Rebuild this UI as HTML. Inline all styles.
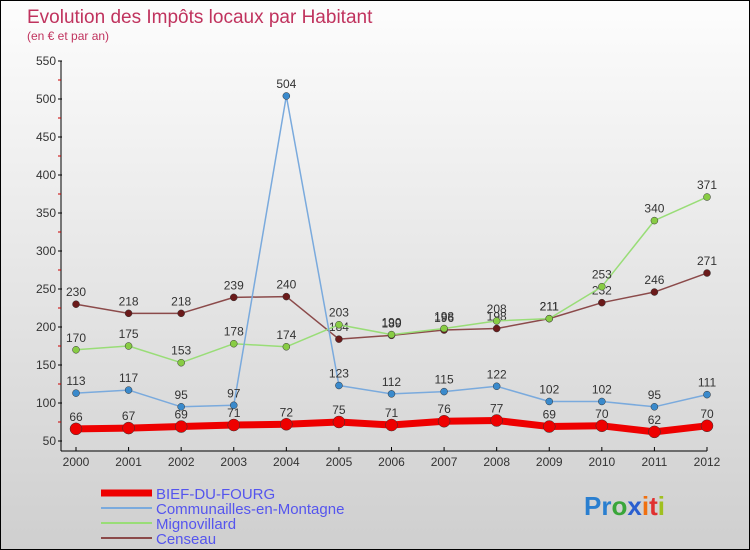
<!DOCTYPE html>
<html><head><meta charset="utf-8"><style>
body{margin:0}
#c{width:750px;height:550px;position:relative;box-sizing:border-box;border:1px solid #000;background:linear-gradient(#fdfdfd,#cfcfcf);font-family:"Liberation Sans",sans-serif;overflow:hidden}
text{font-family:"Liberation Sans",sans-serif}
</style></head><body>
<div id="c">
<svg id="s" width="750" height="550">
<text x="26" y="22" font-size="19" fill="#c0335e">Evolution des Impôts locaux par Habitant</text>
<text x="26" y="39" font-size="12" fill="#c0335e">(en € et par an)</text>
<g id="axes"></g><g id="series"></g><g id="legend"></g>
<text x="583" y="514" font-size="26" font-weight="bold"><tspan fill="#2a7fd0">Pr</tspan><tspan fill="#3aa63a">o</tspan><tspan fill="#2a5fd0">x</tspan><tspan fill="#f07010">i</tspan><tspan fill="#e03030">t</tspan><tspan fill="#a0c020">i</tspan></text>
</svg></div>
<script>
const years=[2000,2001,2002,2003,2004,2005,2006,2007,2008,2009,2010,2011,2012];
const yTicks=[50,100,150,200,250,300,350,400,450,500,550];
const bief=[66,67,69,71,72,75,71,76,77,69,70,62,70];
const comm=[113,117,95,97,504,123,112,115,122,102,102,95,111];
const mign=[170,175,153,178,174,203,190,198,208,211,253,340,371];
const cens=[230,218,218,239,240,184,189,196,198,211,232,246,271];
const NS="http://www.w3.org/2000/svg";
function X(i){return 75+i*(706-75)/12;}
function Y(v){return 440-(v-50)*0.76;}
function mk(t,a,p){const e=document.createElementNS(NS,t);for(const k in a)e.setAttribute(k,a[k]);p.appendChild(e);return e;}
const ax=document.getElementById('axes');
let l=mk('line',{x1:60,y1:60,x2:60,y2:450,stroke:'#000'},ax);


l=mk('line',{x1:60,y1:450,x2:706,y2:450,stroke:'#000'},ax);


yTicks.forEach((v,i)=>{
 mk('line',{x1:57,y1:Y(v),x2:61,y2:Y(v),stroke:'#000'},ax);
 if(i<yTicks.length-1) mk('line',{x1:57,y1:Y(v+25),x2:60,y2:Y(v+25),stroke:'#c00'},ax);
 const t=mk('text',{x:55,y:Y(v)+4,'font-size':12,fill:'#333','text-anchor':'end'},ax);t.textContent=v;
 
 
});
years.forEach((y,i)=>{
 mk('line',{x1:X(i),y1:446,x2:X(i),y2:450,stroke:'#000'},ax);
 const t=mk('text',{x:X(i),y:465,'font-size':12,fill:'#333','text-anchor':'middle'},ax);t.textContent=y;
 
 
});
const sg=document.getElementById('series');
function draw(data,color,dot,w,r,name){
 const g=mk('g',{},sg);
 
 
 mk('polyline',{points:data.map((v,i)=>X(i)+','+Y(v)).join(' '),fill:'none',stroke:color,'stroke-width':w,'stroke-linejoin':'round'},g);
 data.forEach((v,i)=>{
  const c=mk('circle',{cx:X(i),cy:Y(v),r:r,fill:dot,stroke:'#333','stroke-width':0.5},g);
  
  
  const t=mk('text',{x:X(i),y:Y(v)-8,'font-size':12,fill:'#333','text-anchor':'middle'},g);t.textContent=v;
  
  
 });
}
draw(cens,'#8b4a4a','#6b1a1a',1.5,3.5,'series-censeau');
draw(mign,'#99dd77','#88cc44',1.5,3.5,'series-mignovillard');
draw(comm,'#7aaadd','#3a8acc',1.5,3.5,'series-communailles');
draw(bief,'#ee0000','#ee0000',7,6,'series-bief-du-fourg');
const lg=document.getElementById('legend');
[['BIEF-DU-FOURG','#ee0000',7],['Communailles-en-Montagne','#7aaadd',2],['Mignovillard','#99dd77',2],['Censeau','#8b4a4a',2]].forEach((e,i)=>{
 const y=492+i*15;
 const g=mk('g',{},lg);
 
 
 mk('line',{x1:100,y1:y,x2:151,y2:y,stroke:e[1],'stroke-width':e[2]},g);
 const t=mk('text',{x:155,y:y+6,'font-size':15,fill:'#5555ee'},g);t.textContent=e[0];
});
</script>
</body></html>
